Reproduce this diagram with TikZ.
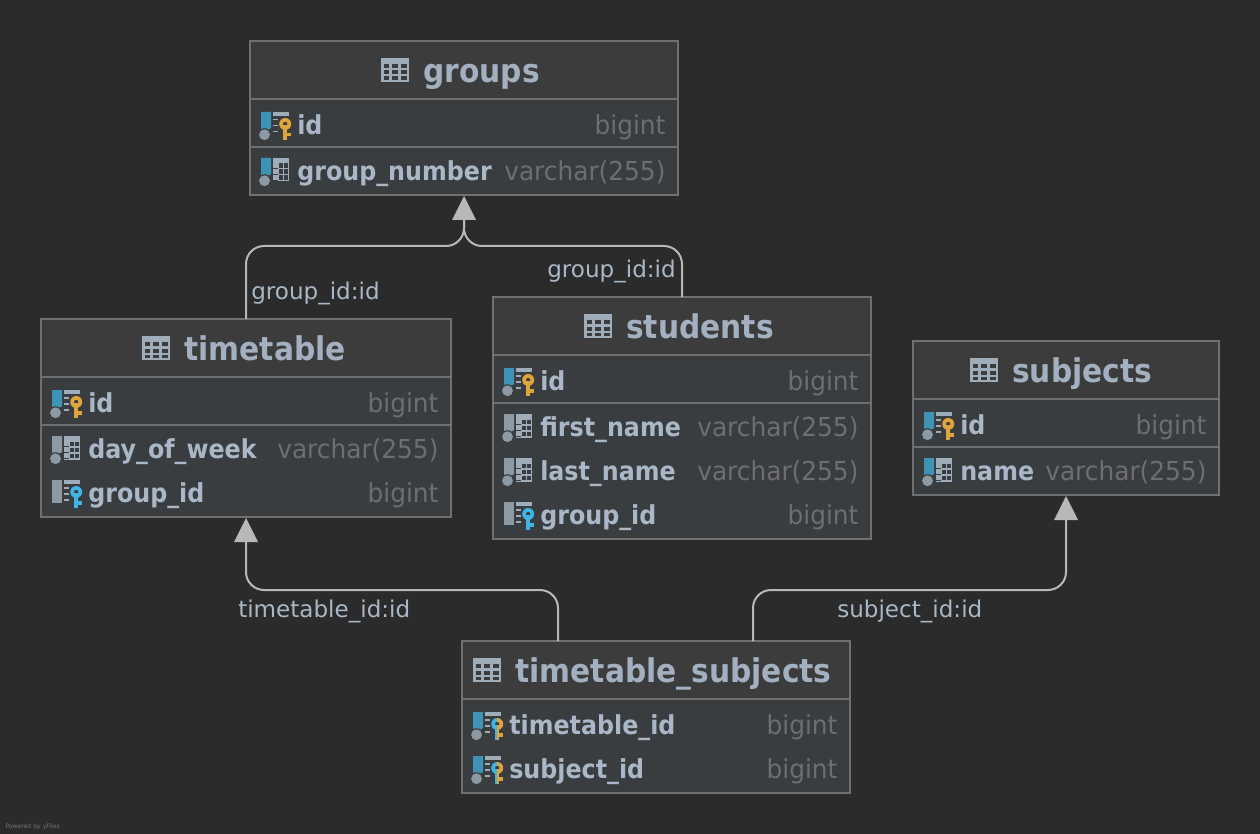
\documentclass[tikz,border=0pt]{standalone}
\usepackage{fontspec}
\setmainfont{DejaVu Sans}
\newfontfamily\boldnarrow[FakeStretch=0.91]{DejaVu Sans Bold}
\newfontfamily\typenarrow[FakeStretch=0.95]{DejaVu Sans}
\definecolor{bgc}{HTML}{2B2B2B}
\definecolor{headc}{HTML}{3C3C3C}
\definecolor{rowc}{HTML}{3A3D40}
\definecolor{edgec}{HTML}{707070}
\definecolor{namec}{HTML}{A9B7C6}
\definecolor{titlec}{HTML}{A2B0C0}
\definecolor{typec}{HTML}{6E6E6E}
\definecolor{iconc}{HTML}{9FACB9}
\definecolor{greyc}{HTML}{8E9AA3}
\definecolor{bluec}{HTML}{3F93B5}
\definecolor{pkc}{HTML}{E0A43C}
\definecolor{fkc}{HTML}{3FB4E6}
\definecolor{linec}{HTML}{B8B8B8}
\tikzset{
  x=0.75pt,y=-0.75pt,
  tablebox/.style={draw=edgec,line width=1.5pt,fill=rowc,inner sep=0pt,outer sep=0pt},
  sepline/.style={draw=edgec,line width=1.5pt},
  titletext/.style={font=\boldnarrow\fontsize{24.5pt}{28pt}\selectfont,text=titlec,inner sep=0pt,anchor=base west},
  nametext/.style={font=\boldnarrow\fontsize{19.6pt}{24pt}\selectfont,text=namec,inner sep=0pt,anchor=base west},
  typetext/.style={font=\typenarrow\fontsize{19.6pt}{24pt}\selectfont,text=typec,inner sep=0pt,anchor=base east},
  linklabel/.style={font=\fontsize{17.3pt}{22pt}\selectfont,text=namec,inner sep=0pt,anchor=base west},
  link/.style={draw=linec,line width=1.5pt,rounded corners=13.5pt},
  tip/.style={fill=linec,draw=none},
  credit/.style={font=\fontsize{4.6pt}{6pt}\selectfont,text=white!35!bgc,inner sep=0pt,anchor=base west},
}
\newcommand\dbframe[6]{%
  \node[tablebox,minimum width=#4*0.75pt-#2*0.75pt,minimum height=#5*0.75pt-#3*0.75pt] (#1) at ({(#2+#4)/2},{(#3+#5)/2}) {};
  \fill[headc] (#2,#3) rectangle (#4,#6);
  \draw[sepline] (#2,#6) -- (#4,#6);
  \draw[edgec,line width=1.5pt] (#2,#3) rectangle (#4,#5);
}
\newcommand\headicon[2]{%
  \begin{scope}[shift={(#1,#2)}]
    \fill[iconc] (0,-12) rectangle (28,12);
    \foreach \a/\w in {2.5/5,10.5/6.5,19.5/6} {
      \fill[headc] (\a,-6) rectangle ++(\w,4);
      \fill[headc] (\a,0.5) rectangle ++(\w,4);
      \fill[headc] (\a,6.5) rectangle ++(\w,3.5);}
  \end{scope}}
\newcommand\barcirc[1]{%
  \fill[#1] (0,-13) -- (10,-13) -- (10,3) -- (6,5.5) -- (0,5.5) -- cycle;
  \fill[rowc] (3.5,9.7) circle[radius=6.5];
  \fill[greyc] (3.5,9.7) circle[radius=5.4];}
\newcommand\barfull[1]{\fill[#1] (0,-13) rectangle (10,10);}
\newcommand\gridpart{%
  \fill[iconc] (12,-13) rectangle (28,10.5);
  \foreach \b/\h in {-7.5/4.5,-1.5/4.5,4.5/4.5} {
    \fill[rowc] (12,\b+\h) rectangle (17,\b+\h+1);
    \fill[rowc] (18,\b) rectangle (21.5,\b+\h);
    \fill[rowc] (23,\b) rectangle (26.5,\b+\h);}
}
\newcommand\keyshape[1]{%
  \fill[#1] (21.7,0) rectangle (25.7,15);
  \fill[#1] (21.7,8) rectangle (30,11.5);
  \fill[#1,even odd rule] (24.2,-1) circle[radius=6] (24.2,-1) circle[radius=2.3];}
\newcommand\keybase{%
  \fill[iconc] (12,-13) rectangle (28,-9);
  \fill[iconc] (12,-6) rectangle (18,-4.5);
  \fill[iconc] (12,0) rectangle (18,1.5);
  \fill[iconc] (12,6) rectangle (18,7.5);
  \fill[rowc] (17,-8) rectangle (31,16);}
\newcommand\keypart[1]{\keybase\keyshape{#1}}
\newcommand\keydual{\keybase
  \begin{scope}\clip (15,-10) rectangle (24.2,18);\keyshape{fkc}\end{scope}
  \begin{scope}\clip (24.2,-10) rectangle (33,18);\keyshape{pkc}\end{scope}}
\newcommand\rowicon[4]{%
  \begin{scope}[shift={(#1,#2)}]#3#4\end{scope}}
\newcommand\rowtext[5]{%
  \node[nametext] at (#1+36,#2+9.5) {#3};
  \node[typetext] at (#4+0.7,#2+9.5) {#5};}
\begin{document}
\begin{tikzpicture}
\useasboundingbox[fill=bgc] (0,0) rectangle (1260,834);
% groups
\dbframe{groups}{250}{41}{678}{195}{99}
\draw[sepline] (250,147) -- (678,147);
\headicon{381}{70}
\node[titletext] (groupsT) at (423,82.5) {groups};
\rowicon{261}{125}{\barcirc{bluec}}{\keypart{pkc}}
\rowtext{261}{125}{id}{665}{bigint}
\rowicon{261}{171}{\barcirc{bluec}}{\gridpart}
\rowtext{261}{171}{group\_number}{665}{varchar(255)}
% timetable
\dbframe{timetable}{41}{319}{451}{517}{377}
\draw[sepline] (41,425) -- (451,425);
\headicon{142}{348}
\node[titletext] (timetableT) at (184,360.5) {timetable};
\rowicon{52}{403}{\barcirc{bluec}}{\keypart{pkc}}
\rowtext{52}{403}{id}{438}{bigint}
\rowicon{52}{449}{\barcirc{greyc}}{\gridpart}
\rowtext{52}{449}{day\_of\_week}{438}{varchar(255)}
\rowicon{52}{493}{\barfull{greyc}}{\keypart{fkc}}
\rowtext{52}{493}{group\_id}{438}{bigint}
% students
\dbframe{students}{493}{297}{871}{539}{355}
\draw[sepline] (493,403) -- (871,403);
\headicon{584}{326}
\node[titletext] (studentsT) at (626,338.5) {students};
\rowicon{504}{381}{\barcirc{bluec}}{\keypart{pkc}}
\rowtext{504}{381}{id}{858}{bigint}
\rowicon{504}{427}{\barcirc{greyc}}{\gridpart}
\rowtext{504}{427}{first\_name}{858}{varchar(255)}
\rowicon{504}{471}{\barcirc{greyc}}{\gridpart}
\rowtext{504}{471}{last\_name}{858}{varchar(255)}
\rowicon{504}{515}{\barfull{greyc}}{\keypart{fkc}}
\rowtext{504}{515}{group\_id}{858}{bigint}
% subjects
\dbframe{subjects}{913}{341}{1219}{495}{399}
\draw[sepline] (913,447) -- (1219,447);
\headicon{970}{370}
\node[titletext] (subjectsT) at (1012,382.5) {subjects};
\rowicon{924}{425}{\barcirc{bluec}}{\keypart{pkc}}
\rowtext{924}{425}{id}{1206}{bigint}
\rowicon{924}{471}{\barcirc{bluec}}{\gridpart}
\rowtext{924}{471}{name}{1206}{varchar(255)}
% timetable_subjects
\dbframe{ts}{462}{641}{850}{793}{699}
\headicon{473}{670}
\node[titletext] (tsT) at (515,682.5) {timetable\_subjects};
\rowicon{473}{725}{\barcirc{bluec}}{\keydual}
\rowtext{473}{725}{timetable\_id}{837}{bigint}
\rowicon{473}{769}{\barcirc{bluec}}{\keydual}
\rowtext{473}{769}{subject\_id}{837}{bigint}
% connectors
\coordinate (jn) at (464,220);
\draw[link] (timetable.north) -- (246,246) -- (464,246) -- (jn);
\draw[link] (students.north) -- (682,246) -- (464,246) -- (jn);
\fill[tip] (groups.south) ++(0,1) -- ++(12,24) -- ++(-24,0) -- cycle;
\coordinate (t1) at (558,641);
\coordinate (t2) at (753,641);
\draw[link] (t1) -- (558,590) -- (246,590) -- (246,542);
\fill[tip] (timetable.south) ++(0,1) -- ++(12,24) -- ++(-24,0) -- cycle;
\draw[link] (t2) -- (753,590) -- (1066,590) -- (1066,520);
\fill[tip] (subjects.south) ++(0,1) -- ++(12,24) -- ++(-24,0) -- cycle;
% labels
\node[linklabel] (l1) at (251,300) {group\_id:id};
\node[linklabel] (l2) at (547,278) {group\_id:id};
\node[linklabel] (l3) at (238,617) {timetable\_id:id};
\node[linklabel] (l4) at (837,617) {subject\_id:id};
\node[credit] (pw) at (5,828) {Powered by yFiles};
\end{tikzpicture}
\end{document}
